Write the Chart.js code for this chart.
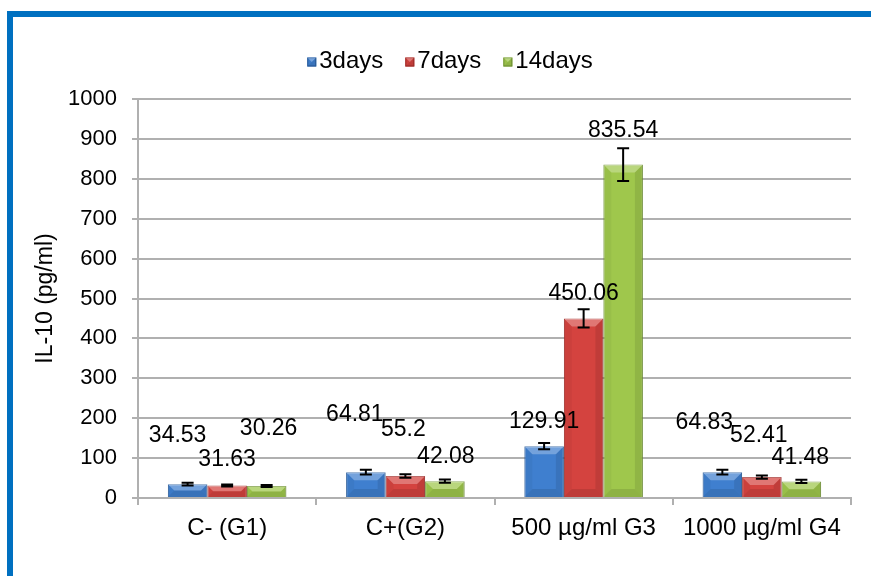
<!DOCTYPE html>
<html>
<head>
<meta charset="utf-8">
<script src="https://cdn.jsdelivr.net/npm/chart.js@4.4.0/dist/chart.umd.min.js"></script>
<style>
  html, body { margin: 0; padding: 0; background: #fff; }
  #wrap { position: relative; width: 871px; height: 576px; overflow: hidden; }
  #frame { position: absolute; left: 7px; top: 11px; width: 900px; height: 600px;
           border-top: 6px solid #0070C0; border-left: 6px solid #0070C0; }
  canvas { position: absolute; left: 0; top: 0; }
</style>
</head>
<body>
<div id="wrap">
  <div id="frame"></div>
  <canvas id="il10Chart" width="871" height="576"></canvas>
</div>
<script>
// chart data
const categories = ['C- (G1)', 'C+(G2)', '500 µg/ml G3', '1000 µg/ml G4'];
const seriesNames = ['3days', '7days', '14days'];
const days3 = [34.53, 64.81, 129.91, 64.83];
const days7 = [31.63, 55.2, 450.06, 52.41];
const days14 = [30.26, 42.08, 835.54, 41.48];
// error bar half-heights (estimated)
const err3 = [3.5, 6, 8, 6];
const err7 = [2.5, 4.5, 23, 4];
const err14 = [2.5, 4, 41, 4];
const yMin = 0;
const yMax = 1000;
const yStep = 100;

const FONT = "'Liberation Sans', Arial, sans-serif";
const fills = ['#3F7FCF', '#D4433F', '#9FC74C'];
const edges = ['#2C5F9E', '#A3302D', '#76993A'];

// where each value label sits, relative to the top centre of its bar (px)
const labelShift = [
    [[-10, -49], [-11, -57], [0, -25], [-18, -49]],
    [[0, -26], [-2, -46], [0, -25], [-3, -41]],
    [[2, -57], [1, -25], [0, -34], [-1, -24]]
];

function bevel(ctx, left, top, right, bottom) {
    const b = Math.min(8, (bottom - top) / 2, (right - left) / 2);
    const shade = (pts, color) => {
        ctx.beginPath();
        ctx.moveTo(pts[0][0], pts[0][1]);
        pts.slice(1).forEach(p => ctx.lineTo(p[0], p[1]));
        ctx.closePath();
        ctx.fillStyle = color;
        ctx.fill();
    };
    shade([[left, top], [right, top], [right - b, top + b], [left + b, top + b]], 'rgba(255,255,255,0.28)');
    shade([[left, bottom], [right, bottom], [right - b, bottom - b], [left + b, bottom - b]], 'rgba(0,0,0,0.10)');
    shade([[left, top], [left + b, top + b], [left + b, bottom - b], [left, bottom]], 'rgba(0,0,0,0.04)');
    shade([[right, top], [right - b, top + b], [right - b, bottom - b], [right, bottom]], 'rgba(0,0,0,0.09)');
}

const bevelPlugin = {
    id: 'bevel',
    afterDatasetsDraw(chart) {
        const ctx = chart.ctx;
        ctx.save();
        chart.data.datasets.forEach((ds, di) => {
            chart.getDatasetMeta(di).data.forEach(bar => {
                const p = bar.getProps(['x', 'y', 'base', 'width'], true);
                bevel(ctx, p.x - p.width / 2, p.y, p.x + p.width / 2, p.base);
            });
        });
        ctx.restore();
    }
};

const errorBarPlugin = {
    id: 'errorBars',
    afterDatasetsDraw(chart) {
        const ctx = chart.ctx;
        const yScale = chart.scales.y;
        ctx.save();
        ctx.strokeStyle = '#000';
        ctx.lineWidth = 2;
        chart.data.datasets.forEach((ds, di) => {
            chart.getDatasetMeta(di).data.forEach((bar, i) => {
                const x = bar.x;
                const hi = yScale.getPixelForValue(ds.data[i] + ds.errors[i]);
                const lo = yScale.getPixelForValue(ds.data[i] - ds.errors[i]);
                ctx.beginPath();
                ctx.moveTo(x, hi); ctx.lineTo(x, lo);
                ctx.moveTo(x - 6, hi); ctx.lineTo(x + 6, hi);
                ctx.moveTo(x - 6, lo); ctx.lineTo(x + 6, lo);
                ctx.stroke();
            });
        });
        ctx.restore();
    }
};

const valueLabelPlugin = {
    id: 'valueLabels',
    afterDatasetsDraw(chart) {
        const ctx = chart.ctx;
        ctx.save();
        ctx.font = '23px ' + FONT;
        ctx.fillStyle = '#000';
        ctx.textAlign = 'center';
        ctx.textBaseline = 'middle';
        chart.data.datasets.forEach((ds, di) => {
            chart.getDatasetMeta(di).data.forEach((bar, i) => {
                const s = labelShift[di][i];
                ctx.fillText(String(ds.data[i]), bar.x + s[0], bar.y + s[1]);
            });
        });
        ctx.restore();
    }
};

const legendPlugin = {
    id: 'topLegend',
    afterDraw(chart) {
        const ctx = chart.ctx;
        const box = 9, gapText = 3, gapItem = 22, cx = 450, cy = 61;
        ctx.save();
        ctx.font = '24px ' + FONT;
        ctx.textBaseline = 'middle';
        ctx.textAlign = 'left';
        const widths = chart.data.datasets.map(ds => ctx.measureText(ds.label).width);
        let total = 0;
        widths.forEach(w => total += box + gapText + w);
        total += gapItem * (widths.length - 1);
        let x = cx - total / 2;
        chart.data.datasets.forEach((ds, di) => {
            ctx.fillStyle = ds.backgroundColor;
            ctx.fillRect(x, cy - box / 2 + 1, box, box);
            ctx.strokeStyle = ds.borderColor;
            ctx.lineWidth = 1;
            ctx.strokeRect(x + 0.5, cy - box / 2 + 1.5, box - 1, box - 1);
            bevel(ctx, x, cy - box / 2 + 1, x + box, cy + box / 2 + 1);
            ctx.fillStyle = '#000';
            ctx.fillText(ds.label, x + box + gapText, cy);
            x += box + gapText + widths[di] + gapItem;
        });
        ctx.restore();
    }
};

const seriesValues = [days3, days7, days14];
const seriesErrors = [err3, err7, err14];

const ctx = document.getElementById('il10Chart').getContext('2d');
new Chart(ctx, {
    type: 'bar',
    data: {
        labels: categories,
        datasets: seriesNames.map((name, i) => ({
            label: name,
            data: seriesValues[i],
            errors: seriesErrors[i],
            backgroundColor: fills[i],
            borderColor: edges[i],
            borderWidth: 1
        }))
    },
    options: {
        responsive: false,
        animation: false,
        layout: { padding: { top: 99, right: 20, left: 0, bottom: 0 } },
        datasets: { bar: { categoryPercentage: 0.665, barPercentage: 1 } },
        plugins: {
            legend: { display: false },
            tooltip: { enabled: false }
        },
        scales: {
            x: {
                grid: { drawOnChartArea: false, color: '#b0b0b0', lineWidth: 2, tickLength: 7 },
                border: { color: '#b0b0b0', width: 2 },
                ticks: { color: '#000', font: { family: FONT, size: 24 }, padding: 9, maxRotation: 0 },
                afterFit(scale) { scale.height = 78; }
            },
            y: {
                min: yMin,
                max: yMax,
                grid: { color: '#b0b0b0', lineWidth: 2, tickLength: 6 },
                border: { color: '#b0b0b0', width: 2 },
                ticks: {
                    stepSize: yStep,
                    color: '#000',
                    font: { family: FONT, size: 22 },
                    padding: 15,
                    callback: v => String(v)
                },
                title: {
                    display: true,
                    text: 'IL-10 (pg/ml)',
                    color: '#000',
                    font: { family: FONT, size: 23 },
                    padding: { top: 32, bottom: 0 }
                },
                afterFit(scale) { scale.width = 138; }
            }
        }
    },
    plugins: [bevelPlugin, errorBarPlugin, valueLabelPlugin, legendPlugin]
});
</script>
</body>
</html>
